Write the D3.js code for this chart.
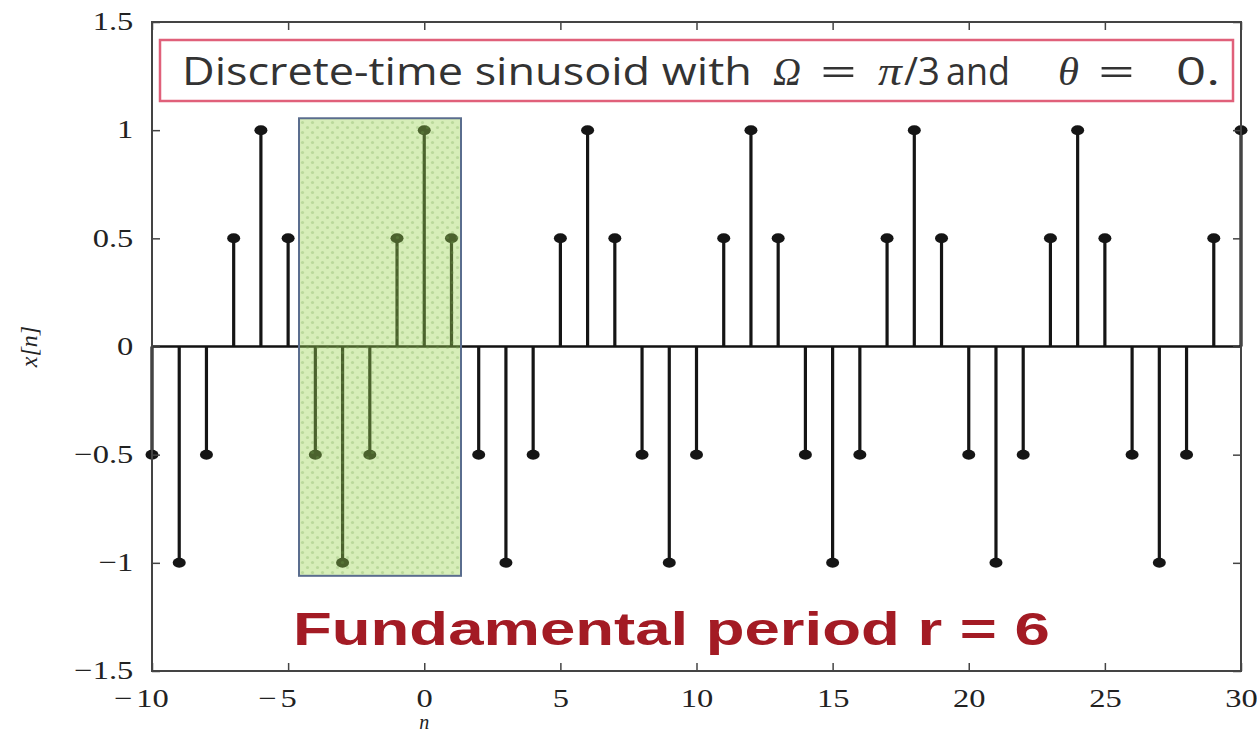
<!DOCTYPE html>
<html>
<head>
<meta charset="utf-8">
<script src="https://cdn.jsdelivr.net/npm/d3@7"></script>
<style>
  html, body { margin: 0; padding: 0; background: #fff; }
  svg { display: block; }
</style>
</head>
<body>
<svg id="chart" width="1257" height="734"></svg>
<script>
// ---- data ----
const nValues = [-10,-9,-8,-7,-6,-5,-4,-3,-2,-1,0,1,2,3,4,5,6,7,8,9,10,11,12,13,14,15,16,17,18,19,20,21,22,23,24,25,26,27,28,29,30];
const xValues = [-0.5,-1,-0.5,0.5,1,0.5,-0.5,-1,-0.5,0.5,1,0.5,-0.5,-1,-0.5,0.5,1,0.5,-0.5,-1,-0.5,0.5,1,0.5,-0.5,-1,-0.5,0.5,1,0.5,-0.5,-1,-0.5,0.5,1,0.5,-0.5,-1,-0.5,0.5,1];
const xTicks = [-10,-5,0,5,10,15,20,25,30];
const yTicks = [-1.5,-1,-0.5,0,0.5,1,1.5];
const yTickLabels = ["\u22121.5","\u22121","\u22120.5","0","0.5","1","1.5"];
const xTickLabels = ["\u221210","\u22125","0","5","10","15","20","25","30"];
const periodWindow = [-4.6, 1.35];   // highlighted one period (n)
const periodWindowY = [-1.06, 1.055];
const titleParts = ["Discrete-time sinusoid with", "\u03A9", "=", "\u03C0", "/3", "and", "\u03B8", "=", "0."];
const titleIsMath = [false, true, false, true, false, false, true, false, false];
const periodLabel = "Fundamental period r = 6";

// ---- layout ----
const L = 152, R = 1241, T = 22, B = 671;
const sx = 1.25; // horizontal stretch of the reference
const titleX = [182, 773, 820, 878, 904, 946, 1058, 1098, 1176];
const titleW = [570, 28, 37, 25, 36, 64, 21, 37, 44];
const svg = d3.select("#chart");
const x = d3.scaleLinear().domain([-10, 30]).range([L, R]);
const y = d3.scaleLinear().domain([-1.5, 1.5]).range([B, T]);

const data = nValues.map((n, i) => ({n, v: xValues[i]}));

// baseline
svg.append("line")
  .attr("x1", x(-10)).attr("x2", x(30))
  .attr("y1", y(0)).attr("y2", y(0))
  .attr("stroke", "#111").attr("stroke-width", 2.5);

// stems
svg.append("g").selectAll("line").data(data).join("line")
  .attr("x1", d => x(d.n)).attr("x2", d => x(d.n))
  .attr("y1", y(0)).attr("y2", d => y(d.v))
  .attr("stroke", "#151515").attr("stroke-width", 3.2);
svg.append("g").selectAll("ellipse").data(data).join("ellipse")
  .attr("cx", d => x(d.n)).attr("cy", d => y(d.v))
  .attr("rx", 6.5).attr("ry", 5)
  .attr("fill", "#151515");

// highlighted period (pattern)
const defs = svg.append("defs");
const pat = defs.append("pattern").attr("id", "dots")
  .attr("patternUnits", "userSpaceOnUse").attr("width", 10).attr("height", 10);
pat.append("rect").attr("width", 10).attr("height", 10).attr("fill", "rgba(155,212,80,0.40)");
pat.append("circle").attr("cx", 2.5).attr("cy", 2.5).attr("r", 1.6).attr("fill", "rgba(110,160,80,0.28)");
pat.append("circle").attr("cx", 7.5).attr("cy", 7.5).attr("r", 1.6).attr("fill", "rgba(110,160,80,0.28)");

svg.append("rect")
  .attr("x", x(periodWindow[0])).attr("y", y(periodWindowY[1]))
  .attr("width", x(periodWindow[1]) - x(periodWindow[0]))
  .attr("height", y(periodWindowY[0]) - y(periodWindowY[1]))
  .attr("fill", "url(#dots)")
  .attr("stroke", "#5a6d8e").attr("stroke-width", 2);

// axes
const tickFont = "'Liberation Serif', 'Times New Roman', serif";
const gB = svg.append("g").attr("transform", `translate(0,${B})`)
  .call(d3.axisBottom(x).tickValues(xTicks).tickFormat((d, i) => xTickLabels[i])
    .tickSizeInner(-8).tickSizeOuter(0).tickPadding(18));
const gL = svg.append("g").attr("transform", `translate(${L},0)`)
  .call(d3.axisLeft(y).tickValues(yTicks).tickFormat((d, i) => yTickLabels[i])
    .tickSizeInner(-8).tickSizeOuter(0).tickPadding(15));
const gT = svg.append("g").attr("transform", `translate(0,${T})`)
  .call(d3.axisTop(x).tickValues(xTicks).tickFormat("").tickSizeInner(-8).tickSizeOuter(0));
const gR = svg.append("g").attr("transform", `translate(${R},0)`)
  .call(d3.axisRight(y).tickValues(yTicks).tickFormat("").tickSizeInner(-8).tickSizeOuter(0));
[gB, gL, gT, gR].forEach(g => {
  g.select(".domain").remove();
  g.selectAll(".tick line").attr("stroke", "#444").attr("stroke-width", 1.5);
  g.selectAll(".tick text").attr("font-family", tickFont).attr("font-size", 26)
    .attr("fill", "#222").attr("transform", `scale(${sx},1)`);
});
gL.selectAll(".tick text").attr("x", -15).attr("dy", "0.3em");

// bottom labels: centre the digits on the tick, minus sign hangs to the left
gB.selectAll(".tick").each(function() {
  const g = d3.select(this);
  const t = g.select("text");
  const s = t.text();
  if (s.startsWith("\u2212")) {
    t.text(s.slice(1));
    const w = t.node().getComputedTextLength();
    g.append("text")
      .attr("font-family", tickFont).attr("font-size", 26).attr("fill", "#222")
      .attr("transform", `scale(${sx},1)`)
      .attr("y", t.attr("y")).attr("dy", t.attr("dy"))
      .attr("x", -w / 2 - 3)
      .attr("text-anchor", "end")
      .text("\u2212");
  }
});

// frame
svg.append("rect").attr("x", L).attr("y", T).attr("width", R - L).attr("height", B - T)
  .attr("fill", "none").attr("stroke", "#444").attr("stroke-width", 2);

// axis labels
svg.append("text")
  .attr("transform", `translate(37,${y(0)}) rotate(-90)`)
  .attr("text-anchor", "middle")
  .attr("font-family", tickFont).attr("font-style", "italic").attr("font-size", 24)
  .attr("fill", "#222").text("x[n]");
svg.append("text")
  .attr("x", x(0)).attr("y", 729)
  .attr("text-anchor", "middle")
  .attr("font-family", tickFont).attr("font-style", "italic").attr("font-size", 20)
  .attr("fill", "#222").text("n");

// title box
svg.append("rect").attr("x", 160).attr("y", 40).attr("width", 1073).attr("height", 61)
  .attr("fill", "#fff").attr("stroke", "#e0607a").attr("stroke-width", 2.5);
titleParts.forEach((p, i) => {
  const t = svg.append("text").attr("fill", "#333").text(p);
  if (titleIsMath[i]) {
    t.attr("font-family", tickFont).attr("font-style", "italic").attr("font-size", 40);
  } else {
    t.attr("font-family", "'Open Sans', 'Noto Sans', sans-serif").attr("font-size", 38);
  }
  const bb = t.node().getBBox();
  const k = titleW[i] / bb.width;
  t.attr("transform", `translate(${titleX[i]},85) scale(${k},1) translate(${-bb.x},0)`);
});

// period label
const pl = svg.append("text")
  .attr("font-family", "'Liberation Sans', Arial, sans-serif")
  .attr("font-weight", "bold").attr("font-size", 46)
  .attr("fill", "#a31b24").text(periodLabel);
{
  const w = pl.node().getComputedTextLength();
  pl.attr("transform", `translate(293,645) scale(${757 / w},1)`);
}
</script>
</body>
</html>
